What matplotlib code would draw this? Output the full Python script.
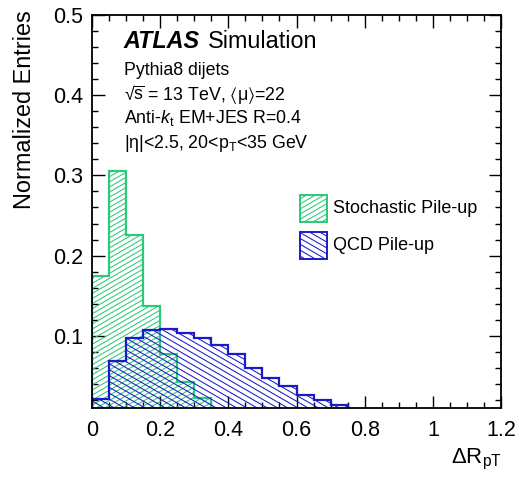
import numpy as np
import matplotlib
matplotlib.use("Agg")
from matplotlib import pyplot as plt
from matplotlib.patches import Rectangle
from matplotlib.collections import LineCollection
from matplotlib.transforms import IdentityTransform
from matplotlib.ticker import MultipleLocator, FuncFormatter

plt.rcParams['font.family'] = ['Liberation Sans', 'DejaVu Sans']
plt.rcParams['mathtext.fontset'] = 'custom'
plt.rcParams['mathtext.rm'] = 'Liberation Sans'
plt.rcParams['mathtext.it'] = 'Liberation Sans:italic'
plt.rcParams['mathtext.bf'] = 'Liberation Sans:bold'
plt.rcParams['mathtext.fallback'] = 'stixsans'

# bin edges, width 0.05 from 0 to 1.2
bin_edges = np.round(np.arange(0, 1.2001, 0.05), 2)

stochastic = [0.175, 0.305, 0.226, 0.137, 0.0775, 0.0425, 0.022, 0.006,
              0.003, 0.001, 0.0005, 0, 0, 0, 0, 0, 0, 0, 0, 0, 0, 0, 0, 0]
qcd = [0.021, 0.069, 0.097, 0.107, 0.108, 0.103, 0.097, 0.088,
       0.077, 0.060, 0.048, 0.037, 0.026, 0.020, 0.0138, 0.006,
       0.003, 0.001, 0, 0, 0, 0, 0, 0]

green = "#2bc978"
blue = "#1a1acb"


def add_hatch(ax, patch, angle, spacing, color, lw=0.75, clip_axes=True):
    # ROOT-like hatching at an arbitrary angle, clipped to the patch
    bb = ax.get_window_extent()
    cx, cy = (bb.x0 + bb.x1) / 2, (bb.y0 + bb.y1) / 2
    r = np.hypot(bb.width, bb.height)
    t = np.radians(angle)
    d = np.array([np.cos(t), np.sin(t)])
    n = np.array([-np.sin(t), np.cos(t)])
    segs = []
    for k in np.arange(-r, r, spacing):
        p = np.array([cx, cy]) + n * k
        segs.append([p - d * r, p + d * r])
    lc = LineCollection(segs, colors=color, linewidths=lw,
                        transform=IdentityTransform(), zorder=patch.get_zorder() - 0.1)
    ax.add_collection(lc, autolim=False)
    lc.set_clip_path(patch)
    if clip_axes:
        lc.set_clip_box(ax.bbox)


fig = plt.figure(figsize=(5.21, 4.79), dpi=100)
ax = fig.add_axes([0.1766, 0.1482, 0.785, 0.8205])

ax.set_xlim(0, 1.2)
ax.set_ylim(0.01, 0.5)

p_sto = ax.stairs(stochastic, bin_edges, fill=True, facecolor='none',
                  edgecolor=green, linewidth=1.6, zorder=2)
p_qcd = ax.stairs(qcd, bin_edges, fill=True, facecolor='none',
                  edgecolor=blue, linewidth=1.6, zorder=3)
add_hatch(ax, p_sto, 30, 4.4, green)
add_hatch(ax, p_qcd, -30, 5.1, blue)

ax.xaxis.set_major_locator(MultipleLocator(0.2))
ax.xaxis.set_minor_locator(MultipleLocator(0.05))
ax.yaxis.set_major_locator(MultipleLocator(0.1))
ax.yaxis.set_minor_locator(MultipleLocator(0.02))
fmt = FuncFormatter(lambda v, p: "%g" % round(v, 3))
ax.xaxis.set_major_formatter(fmt)
ax.yaxis.set_major_formatter(fmt)
ax.tick_params(which='both', direction='in', top=True, right=True, width=1.0,
               labelsize=15.5)
ax.tick_params(which='major', length=9)
ax.tick_params(which='minor', length=4.5)
ax.tick_params(axis='x', which='major', pad=8.5)
ax.tick_params(axis='y', which='major', pad=6.5)
for s in ax.spines.values():
    s.set_linewidth(1.3)
    s.set_zorder(5)

ax.text(-0.164, 1.013, "Normalized Entries", transform=ax.transAxes,
        rotation=90, ha='center', va='top', fontsize=16.9)
ax.text(1.003, -0.141, r"$\Delta\mathrm{R}_{\mathrm{pT}}$", transform=ax.transAxes,
        ha='right', va='baseline', fontsize=16)

ax.text(0.078, 0.915, "ATLAS", transform=ax.transAxes, fontsize=16.8,
        fontweight='bold', fontstyle='italic', va='baseline')
ax.text(0.2836, 0.915, "Simulation", transform=ax.transAxes, fontsize=16.8,
        va='baseline')
info = ["Pythia8 dijets",
        r"√$\overline{\mathrm{s}}$ = 13 TeV, $\langle\mathrm{\mu}\rangle$=22",
        r"Anti-$k_{\mathrm{t}}$ EM+JES R=0.4",
        r"|η|<2.5, 20<p$_{\mathrm{T}}$<35 GeV"]
for txt, yy in zip(info, [0.847, 0.784, 0.725, 0.662]):
    ax.text(0.078, yy, txt, transform=ax.transAxes, fontsize=12.8, va='baseline')

# legend
for (lab, col, ang, sp, y0) in [("Stochastic Pile-up", green, 30, 4.4, 0.474),
                                ("QCD Pile-up", blue, -30, 5.1, 0.379)]:
    box = Rectangle((0.5086, y0), 0.066, 0.068, transform=ax.transAxes,
                    facecolor='none', edgecolor=col, linewidth=1.4,
                    clip_on=False, zorder=4)
    ax.add_patch(box)
    add_hatch(ax, box, ang, sp, col, clip_axes=False)
    ax.text(0.589, y0 + 0.034, lab, transform=ax.transAxes, fontsize=13,
            va='center')

fig.savefig("out.png", dpi=100)
